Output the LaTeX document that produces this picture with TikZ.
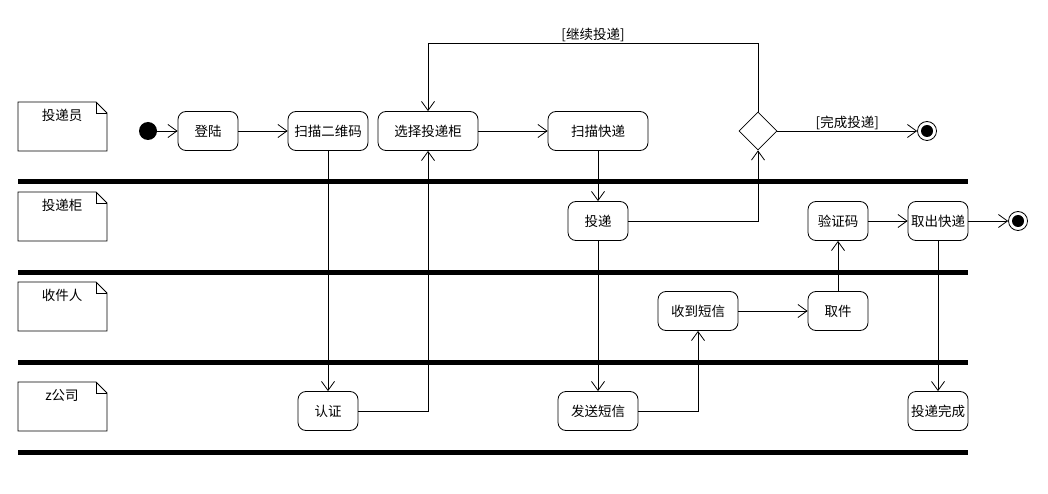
\documentclass[tikz,border=0pt]{standalone}
\usepackage{fontspec}
\setmainfont{Noto Sans CJK SC}
\usetikzlibrary{arrows.meta,shapes.geometric}
\begin{document}
\begin{tikzpicture}[x=1pt,y=-1pt,
  font=\fontsize{13.5}{15}\selectfont,
  act/.style={draw,line width=0.8pt,rounded corners=8pt,minimum height=39pt,inner sep=0pt},
  flow/.style={draw,line width=0.8pt,-{Straight Barb[length=9pt,width=13pt,line width=0.8pt]}},
  lane/.style={line width=5pt},
  note/.style={line width=0.8pt},
  lbl/.style={inner sep=1pt},
]
\useasboundingbox (0,0) rectangle (1048,494);

% swimlane separators
\foreach \yy in {182,272,362,452} \draw[lane] (18,\yy) -- (968,\yy);

% lane labels (note shapes)
\foreach \yy/\nm/\tx in {102/l1/投递员,192/l2/投递柜,282/l3/收件人,382/l4/z公司}{
  \draw[note] (18,\yy) -- (96,\yy) -- (107,\yy+11) -- (107,\yy+49) -- (18,\yy+49) -- cycle;
  \draw[note] (96,\yy) -- (96,\yy+11) -- (107,\yy+11);
  \node[lbl] (\nm) at (62,\yy+13) {\tx};
}

% nodes
\node[circle,fill=black,minimum size=18pt,inner sep=0pt] (start) at (148,131) {};
\node[act,minimum width=60pt] (login) at (208,131) {登陆};
\node[act,minimum width=80pt] (scan) at (328,131) {扫描二维码};
\node[act,minimum width=100pt] (select) at (428,131) {选择投递柜};
\node[act,minimum width=100pt] (scanx) at (598,131) {扫描快递};
\node[draw,line width=0.8pt,diamond,minimum size=38pt,inner sep=0pt,shape aspect=1] (dec) at (758,131) {};
\node[circle,draw,line width=0.8pt,fill=white,minimum size=19pt,inner sep=0pt] (end1) at (927,131) {};
\fill (end1.center) circle (6pt);

\node[act,minimum width=60pt] (deliver) at (598,221) {投递};
\node[act,minimum width=60pt] (code) at (838,221) {验证码};
\node[act,minimum width=60pt] (take) at (938,221) {取出快递};
\node[circle,draw,line width=0.8pt,fill=white,minimum size=19pt,inner sep=0pt] (end2) at (1018,221) {};
\fill (end2.center) circle (6pt);

\node[act,minimum width=80pt] (recv) at (698,311) {收到短信};
\node[act,minimum width=60pt] (pick) at (838,311) {取件};

\node[act,minimum width=60pt] (auth) at (328,411) {认证};
\node[act,minimum width=80pt] (sms) at (598,411) {发送短信};
\node[act,minimum width=60pt] (done) at (938,411) {投递完成};

\coordinate (loopR) at (758,43);
\coordinate (loopL) at (428,43);

% connectors
\draw[flow] (start) -- (login);
\draw[flow] (login) -- (scan);
\draw[flow] (scan) -- (auth);
\draw[flow] (auth.east) -| (select.south);
\draw[flow] (select) -- (scanx);
\draw[flow] (scanx) -- (deliver);
\draw[flow] (deliver.east) -| (dec.south);
\draw[flow] (deliver) -- (sms);
\draw[flow] (sms.east) -| (recv.south);
\draw[flow] (recv) -- (pick);
\draw[flow] (pick) -- (code);
\draw[flow] (code) -- (take);
\draw[flow] (take) -- (end2);
\draw[flow] (take) -- (done);
\draw[flow] (dec.east) -- node[lbl,above] {[完成投递]} (end1);
\draw[flow] (dec.north) -- (loopR) -- node[lbl,above] {[继续投递]} (loopL) -- (select.north);
\end{tikzpicture}
\end{document}
